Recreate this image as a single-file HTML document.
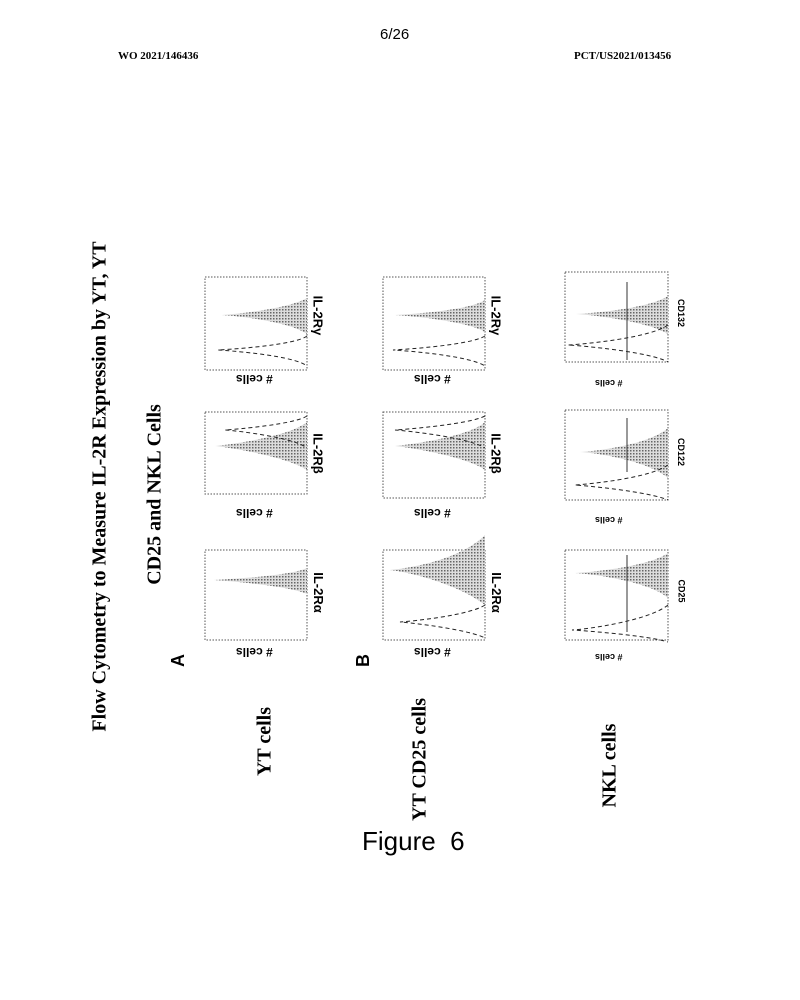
<!DOCTYPE html>
<html><head><style>
body{margin:0;background:#fff;}
#p{position:relative;width:800px;height:1000px;overflow:hidden;font-family:"Liberation Serif",serif;}
.t{position:absolute;white-space:nowrap;}
.r{transform-origin:center center;}
</style></head><body><div id="p">
<div class="t" style="left:380px;top:26px;font-family:'Liberation Sans',sans-serif;font-size:15px;">6/26</div>
<div class="t" style="left:118px;top:50px;font-size:11px;font-weight:bold;">WO 2021/146436</div>
<div class="t" style="left:574px;top:50px;font-size:11px;font-weight:bold;">PCT/US2021/013456</div>

<svg width="800" height="1000" style="position:absolute;left:0;top:0">
<defs><pattern id="g" width="3" height="3" patternUnits="userSpaceOnUse"><rect width="3" height="3" fill="#ddd"/><rect width="1.5" height="1.5" fill="#666"/></pattern></defs>
<g fill="none" stroke="#555" stroke-dasharray="1.5,1.5" stroke-width="1">
<rect x="205" y="277" width="102" height="93"/><rect x="205" y="412" width="102" height="82"/><rect x="205" y="550" width="102" height="90"/>
<rect x="383" y="277" width="102" height="93"/><rect x="383" y="412" width="102" height="86"/><rect x="383" y="550" width="102" height="90"/>
<rect x="565" y="272" width="103" height="90"/><rect x="565" y="410" width="103" height="90"/><rect x="565" y="550" width="103" height="90"/>
</g>
<g fill="url(#g)" stroke="none">
<path d="M307,298 C290,308 240,314 222,315 C240,316 290,322 307,334Z"/>
<path d="M307,422 C290,436 235,444 215,446 C235,448 290,458 307,470Z"/>
<path d="M307,568 C290,576 230,579 214,580 C230,581 290,586 307,594Z"/>
<path d="M485,300 C470,310 415,314 395,315 C415,316 470,322 485,332Z"/>
<path d="M485,422 C470,436 415,444 395,446 C415,448 470,458 485,470Z"/>
<path d="M485,535 C460,560 410,568 390,570 C410,572 460,585 485,605Z"/>
<path d="M668,296 C650,308 595,313 576,314 C595,315 650,322 668,334Z"/>
<path d="M668,428 C650,444 600,451 580,452 C600,453 650,462 668,478Z"/>
<path d="M668,553 C650,566 595,572 575,573 C595,574 650,582 668,598Z"/>
</g>
<g fill="none" stroke="#222" stroke-dasharray="4,3" stroke-width="1">
<path d="M307,336 C295,345 235,349 218,350 C235,351 295,356 307,366"/>
<path d="M307,416 C295,424 240,429 225,430 C240,431 295,438 307,448"/>
<path d="M485,336 C470,345 410,349 393,350 C410,351 470,356 485,366"/>
<path d="M485,416 C470,424 410,429 395,430 C410,431 470,438 485,448"/>
<path d="M485,605 C470,615 415,621 400,622 C415,623 470,630 485,638"/>
<path d="M668,325 C650,338 585,344 568,345 C585,346 650,352 668,362"/>
<path d="M668,465 C650,478 590,484 575,485 C590,486 650,492 668,500"/>
<path d="M668,605 C650,620 590,629 572,630 C590,631 650,636 668,642"/>
</g>
<g stroke="#333" stroke-width="1"><line x1="627" y1="282" x2="627" y2="360"/><line x1="627" y1="418" x2="627" y2="472"/><line x1="627" y1="555" x2="627" y2="632"/></g>
</svg>

<div class="t r" style="left:-160px;top:475px;width:520px;text-align:center;font-size:20px;font-weight:bold;transform:rotate(-90deg);">Flow Cytometry to Measure IL-2R Expression by YT, YT</div>
<div class="t r" style="left:55px;top:483px;width:200px;text-align:center;font-size:20px;font-weight:bold;transform:rotate(-90deg);">CD25 and NKL Cells</div>
<div class="t r" style="left:215px;top:730px;width:100px;text-align:center;font-size:20px;font-weight:bold;transform:rotate(-90deg);">YT cells</div>
<div class="t r" style="left:345px;top:748px;width:150px;text-align:center;font-size:20px;font-weight:bold;transform:rotate(-90deg);">YT CD25 cells</div>
<div class="t r" style="left:560px;top:754px;width:100px;text-align:center;font-size:20px;font-weight:bold;transform:rotate(-90deg);">NKL cells</div>
<div class="t r" style="left:172px;top:650px;font-family:'Liberation Sans',sans-serif;font-size:18px;font-weight:bold;transform:rotate(-90deg);">A</div>
<div class="t r" style="left:357px;top:650px;font-family:'Liberation Sans',sans-serif;font-size:18px;font-weight:bold;transform:rotate(-90deg);">B</div>

<div style="font-family:'Liberation Sans',sans-serif;font-size:12px;font-weight:bold;">
<div class="t r" style="left:236px;top:372px;transform:rotate(180deg);"># cells</div>
<div class="t r" style="left:236px;top:506px;transform:rotate(180deg);"># cells</div>
<div class="t r" style="left:236px;top:645px;transform:rotate(180deg);"># cells</div>
<div class="t r" style="left:414px;top:372px;transform:rotate(180deg);"># cells</div>
<div class="t r" style="left:414px;top:506px;transform:rotate(180deg);"># cells</div>
<div class="t r" style="left:414px;top:645px;transform:rotate(180deg);"># cells</div>
<div class="t r" style="left:595px;top:378px;font-size:9px;transform:rotate(180deg);"># cells</div>
<div class="t r" style="left:595px;top:515px;font-size:9px;transform:rotate(180deg);"># cells</div>
<div class="t r" style="left:595px;top:652px;font-size:9px;transform:rotate(180deg);"># cells</div>
<div class="t r" style="left:298px;top:308px;font-size:13px;transform:rotate(90deg);">IL-2Rγ</div>
<div class="t r" style="left:298px;top:446px;font-size:13px;transform:rotate(90deg);">IL-2Rβ</div>
<div class="t r" style="left:298px;top:585px;font-size:13px;transform:rotate(90deg);">IL-2Rα</div>
<div class="t r" style="left:476px;top:308px;font-size:13px;transform:rotate(90deg);">IL-2Rγ</div>
<div class="t r" style="left:476px;top:446px;font-size:13px;transform:rotate(90deg);">IL-2Rβ</div>
<div class="t r" style="left:476px;top:585px;font-size:13px;transform:rotate(90deg);">IL-2Rα</div>
<div class="t r" style="left:667px;top:308px;font-size:9px;transform:rotate(90deg);">CD132</div>
<div class="t r" style="left:667px;top:447px;font-size:9px;transform:rotate(90deg);">CD122</div>
<div class="t r" style="left:670px;top:586px;font-size:9px;transform:rotate(90deg);">CD25</div>
</div>

<div class="t" style="left:362px;top:826px;font-family:'Liberation Sans',sans-serif;font-size:26px;">Figure&nbsp; 6</div>
</div></body></html>
